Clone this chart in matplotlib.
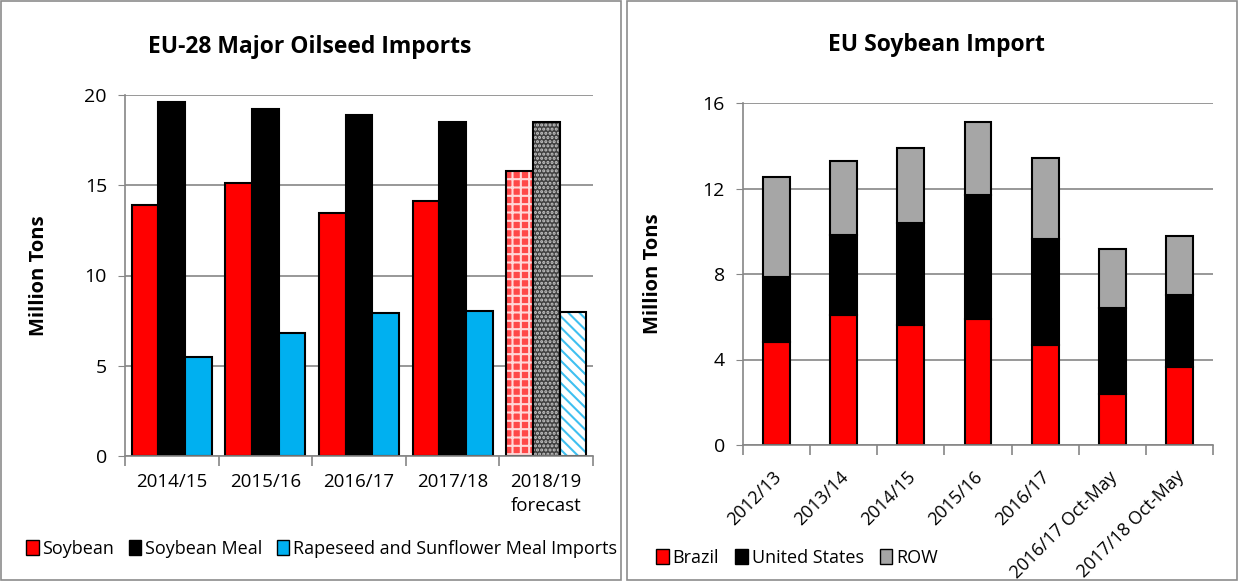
import matplotlib.pyplot as plt
import matplotlib.patches as mpatches
import matplotlib.transforms as mtransforms
import numpy as np

plt.rcParams['font.family'] = ['Open Sans', 'DejaVu Sans']
plt.rcParams['hatch.linewidth'] = 1.5

# left chart data
years = ['2014/15', '2015/16', '2016/17', '2017/18', '2018/19\nforecast']
soybean = [13.9, 15.1, 13.45, 14.1, 15.8]
soy_meal = [19.6, 19.2, 18.9, 18.5, 18.5]
rape_sun = [5.5, 6.8, 7.9, 8.05, 8.0]

# right chart data
periods = ['2012/13', '2013/14', '2014/15', '2015/16', '2016/17',
           '2016/17 Oct-May', '2017/18 Oct-May']
brazil = [4.82, 6.1, 5.6, 5.9, 4.68, 2.39, 3.65]
usa = [3.02, 3.74, 4.77, 5.81, 4.98, 4.03, 3.36]
row = [4.7, 3.46, 3.54, 3.4, 3.75, 2.74, 2.75]

W, H = 1238, 581
fig = plt.figure(figsize=(W / 100, H / 100), dpi=100)

# panel borders
for x0, x1 in [(1, 621), (627, 1237)]:
    fig.patches.append(mpatches.Rectangle((x0 / W, 1 / H), (x1 - x0) / W, (H - 2) / H,
                                          transform=fig.transFigure, fill=False,
                                          edgecolor='#8c8c8c', linewidth=1.2))

grid_c = '#868686'

def style(ax):
    ax.set_axisbelow(True)
    ax.yaxis.grid(True, color=grid_c, linewidth=1.2)
    for s in ['top', 'right']:
        ax.spines[s].set_visible(False)
    for s in ['left', 'bottom']:
        ax.spines[s].set_color(grid_c)
        ax.spines[s].set_linewidth(1.2)
    ax.tick_params(axis='y', length=5, color=grid_c, labelsize=14, pad=8)
    ax.tick_params(axis='x', which='minor', length=7, color=grid_c, width=1.2)
    ax.tick_params(axis='x', which='major', length=0)

# ---- left chart
ax1 = fig.add_axes([125 / W, (H - 456) / H, (593 - 125) / W, (456 - 95) / H])
x = np.arange(len(years))
bw = 0.285
n = len(years) - 1
ax1.bar(x[:n] - bw, soybean[:n], bw, color='#ff0000', edgecolor='black', linewidth=1.5)
ax1.bar(x[:n], soy_meal[:n], bw, color='black', edgecolor='black', linewidth=1.5)
ax1.bar(x[:n] + bw, rape_sun[:n], bw, color='#00b0f0', edgecolor='black', linewidth=1.5)
# forecast bars with patterns
ax1.bar(x[n] - bw, soybean[n], bw, color='#ff4848', hatch='++', edgecolor='#ffd8d8', linewidth=0)
ax1.bar(x[n], soy_meal[n], bw, color='#404040', hatch='....', edgecolor='#c8c8c8', linewidth=0)
ax1.bar(x[n] + bw, rape_sun[n], bw, color='white', hatch='\\\\\\', edgecolor='#40c0f0', linewidth=0)
for dx, v in [(-bw, soybean[n]), (0, soy_meal[n]), (bw, rape_sun[n])]:
    ax1.bar(x[n] + dx, v, bw, fill=False, edgecolor='black', linewidth=1.5)
ax1.set_xlim(-0.5, 4.5)
ax1.set_ylim(0, 20)
ax1.set_yticks([0, 5, 10, 15, 20])
ax1.set_xticks(x)
ax1.set_xticklabels(years, linespacing=1.45)
ax1.set_xticks(np.arange(-0.5, 5, 1), minor=True)
style(ax1)
ax1.tick_params(axis='x', which='major', pad=12, labelsize=13.5)
ax1.set_ylabel('Million Tons', fontsize=14.5, fontweight='bold')
ax1.yaxis.set_label_coords(-0.162, 0.5)
fig.text(310 / W, 1 - 47 / H, 'EU-28 Major Oilseed Imports', ha='center', va='center',
         fontsize=16.5, fontweight='bold')

h1 = [mpatches.Patch(facecolor=c, edgecolor='black') for c in ['#ff0000', 'black', '#00b0f0']]
fig.legend(h1, ['Soybean', 'Soybean Meal', 'Rapeseed and Sunflower Meal Imports'],
           loc='center left', bbox_to_anchor=(10 / W, 1 - 549 / H), ncol=3, frameon=False,
           handlelength=0.7, handleheight=0.9, handletextpad=0.2, columnspacing=0.8,
           fontsize=13)

# ---- right chart
ax2 = fig.add_axes([743 / W, (H - 445) / H, (1213 - 743) / W, (445 - 103) / H])
x2 = np.arange(len(periods))
bw2 = 0.40
b1 = np.array(brazil)
b2 = b1 + np.array(usa)
ax2.bar(x2, brazil, bw2, color='#ff0000', edgecolor='black', linewidth=1.5)
ax2.bar(x2, usa, bw2, bottom=b1, color='black', edgecolor='black', linewidth=1.5)
ax2.bar(x2, row, bw2, bottom=b2, color='#a6a6a6', edgecolor='black', linewidth=1.5)
ax2.set_xlim(-0.5, 6.5)
ax2.set_ylim(0, 16)
ax2.set_yticks([0, 4, 8, 12, 16])
ax2.set_xticks(x2)
ax2.set_xticklabels(periods, rotation=45, ha='right', va='center', rotation_mode='anchor')
ax2.set_xticks(np.arange(-0.5, 7, 1), minor=True)
style(ax2)
ax2.tick_params(axis='x', which='major', pad=21, labelsize=13)
shift = mtransforms.ScaledTranslation(2 / 100, 0, fig.dpi_scale_trans)
for lab in ax2.get_xticklabels():
    lab.set_transform(lab.get_transform() + shift)
ax2.set_ylabel('Million Tons', fontsize=14.5, fontweight='bold')
ax2.yaxis.set_label_coords(-0.170, 0.5)
fig.text(936 / W, 1 - 45 / H, 'EU Soybean Import', ha='center', va='center',
         fontsize=16.5, fontweight='bold')

h2 = [mpatches.Patch(facecolor=c, edgecolor='black') for c in ['#ff0000', 'black', '#a6a6a6']]
fig.legend(h2, ['Brazil', 'United States', 'ROW'],
           loc='center left', bbox_to_anchor=(640 / W, 1 - 558 / H), ncol=3, frameon=False,
           handlelength=0.7, handleheight=0.9, handletextpad=0.2, columnspacing=0.9,
           fontsize=13)

fig.savefig('out.png', dpi=100)
